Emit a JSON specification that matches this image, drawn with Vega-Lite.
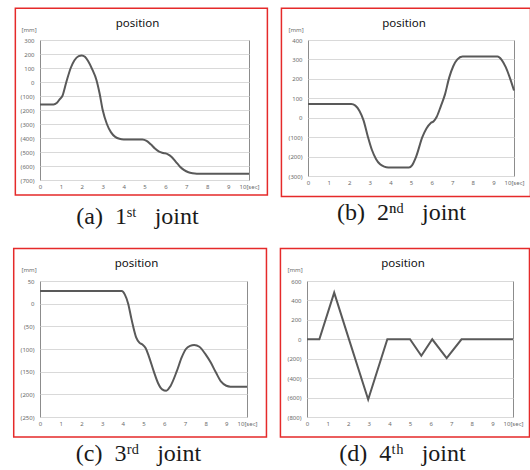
{
  "$schema": "https://vega.github.io/schema/vega-lite/v6.json",
  "padding": {"left": 12, "top": 6, "right": 0, "bottom": 0},
  "background": "white",
  "datasets": {
    "a": [
      {"t": 0, "pos": -160}, {"t": 0.65, "pos": -160}, {"t": 0.8, "pos": -150}, {"t": 0.95, "pos": -122},
      {"t": 1.07, "pos": -100}, {"t": 1.26, "pos": 0}, {"t": 1.47, "pos": 100}, {"t": 1.65, "pos": 155},
      {"t": 1.85, "pos": 185}, {"t": 2.0, "pos": 190}, {"t": 2.15, "pos": 180}, {"t": 2.3, "pos": 150},
      {"t": 2.5, "pos": 90}, {"t": 2.7, "pos": 15}, {"t": 2.85, "pos": -80}, {"t": 3.0, "pos": -200},
      {"t": 3.2, "pos": -300}, {"t": 3.4, "pos": -360}, {"t": 3.6, "pos": -392}, {"t": 3.8, "pos": -406},
      {"t": 4.0, "pos": -410}, {"t": 4.9, "pos": -410}, {"t": 5.1, "pos": -420}, {"t": 5.3, "pos": -445},
      {"t": 5.5, "pos": -475}, {"t": 5.7, "pos": -497}, {"t": 5.9, "pos": -507}, {"t": 6.1, "pos": -515},
      {"t": 6.3, "pos": -535}, {"t": 6.5, "pos": -570}, {"t": 6.7, "pos": -605}, {"t": 6.9, "pos": -630},
      {"t": 7.1, "pos": -645}, {"t": 7.3, "pos": -652}, {"t": 7.5, "pos": -655}, {"t": 10, "pos": -655}
    ],
    "b": [
      {"t": 0, "pos": 70}, {"t": 2.1, "pos": 70}, {"t": 2.3, "pos": 62}, {"t": 2.5, "pos": 35},
      {"t": 2.7, "pos": -15}, {"t": 2.9, "pos": -95}, {"t": 3.1, "pos": -165}, {"t": 3.3, "pos": -212},
      {"t": 3.5, "pos": -240}, {"t": 3.7, "pos": -252}, {"t": 3.9, "pos": -256}, {"t": 4.9, "pos": -256},
      {"t": 5.05, "pos": -245}, {"t": 5.25, "pos": -200}, {"t": 5.55, "pos": -100}, {"t": 5.75, "pos": -55},
      {"t": 5.95, "pos": -28}, {"t": 6.1, "pos": -18}, {"t": 6.25, "pos": 5}, {"t": 6.45, "pos": 60},
      {"t": 6.65, "pos": 120}, {"t": 6.85, "pos": 205}, {"t": 7.05, "pos": 265}, {"t": 7.25, "pos": 300},
      {"t": 7.5, "pos": 315}, {"t": 9.2, "pos": 315}, {"t": 9.4, "pos": 298}, {"t": 9.6, "pos": 260},
      {"t": 9.8, "pos": 205}, {"t": 10, "pos": 140}
    ],
    "c": [
      {"t": 0, "pos": 28}, {"t": 3.95, "pos": 28}, {"t": 4.1, "pos": 20}, {"t": 4.26, "pos": 0},
      {"t": 4.4, "pos": -30}, {"t": 4.5, "pos": -50}, {"t": 4.65, "pos": -75}, {"t": 4.8, "pos": -86},
      {"t": 4.95, "pos": -90}, {"t": 5.1, "pos": -98}, {"t": 5.25, "pos": -115}, {"t": 5.5, "pos": -150},
      {"t": 5.7, "pos": -175}, {"t": 5.9, "pos": -189}, {"t": 6.1, "pos": -192}, {"t": 6.3, "pos": -182},
      {"t": 6.6, "pos": -150}, {"t": 6.85, "pos": -118}, {"t": 7.05, "pos": -100}, {"t": 7.25, "pos": -93},
      {"t": 7.45, "pos": -91}, {"t": 7.7, "pos": -95}, {"t": 8.0, "pos": -112}, {"t": 8.25, "pos": -130},
      {"t": 8.5, "pos": -152}, {"t": 8.75, "pos": -172}, {"t": 9.0, "pos": -181}, {"t": 9.2, "pos": -183},
      {"t": 10, "pos": -183}
    ],
    "d": [
      {"t": 0, "pos": 0}, {"t": 0.6, "pos": 0}, {"t": 1.32, "pos": 480}, {"t": 2.0, "pos": 25},
      {"t": 2.97, "pos": -620}, {"t": 3.9, "pos": 0}, {"t": 5.0, "pos": 0}, {"t": 5.55, "pos": -170},
      {"t": 6.08, "pos": 0}, {"t": 6.78, "pos": -195}, {"t": 7.5, "pos": 0}, {"t": 10, "pos": 0}
    ]
  },
  "config": {
    "view": {"stroke": "#8c8c8c", "strokeWidth": 1},
    "axis": {
      "labelFont": "Noto Sans", "labelFontSize": 6, "labelColor": "#6b6b6b",
      "ticks": false, "tickSize": 0, "domain": false
    },
    "axisX": {
      "grid": false, "labelPadding": 3,
      "titleFont": "Liberation Serif", "titleFontSize": 24, "titleFontWeight": "normal",
      "titleColor": "#1a1a1a", "titlePadding": 15
    },
    "axisY": {
      "grid": true, "gridColor": "#d9d9d9", "gridWidth": 1, "labelPadding": 6,
      "titleFont": "Noto Sans", "titleFontSize": 6, "titleFontWeight": "normal", "titleColor": "#6b6b6b",
      "titleAngle": 0, "titleAlign": "left", "titleBaseline": "middle"
    },
    "title": {"font": "Noto Sans", "fontSize": 11.5, "fontWeight": "normal", "color": "#111111", "dx": -7, "offset": -22}
  },
  "vconcat": [
    {
      "hconcat": [
        {
          "width": 209, "height": 140,
          "title": "position",
          "layer": [
            {
              "data": {"name": "a"},
              "mark": {"type": "line", "interpolate": "monotone", "color": "#595959", "strokeWidth": 2},
              "encoding": {
                "x": {"field": "t", "type": "quantitative", "scale": {"domain": [0, 10], "nice": false, "zero": false},
                      "axis": {"title": "(a)\u00a0\u00a01ˢᵗ\u00a0\u00a0\u00a0joint", "titleX": 97, "values": [0, 1, 2, 3, 4, 5, 6, 7, 8, 9, 10], "tickCount": 30, "format": "d", "labelExpr": "datum.value == 10 ? '10[sec]' : datum.label", "labelOverlap": false, "labelFlush": false, "labelBound": false}},
                "y": {"field": "pos", "type": "quantitative", "scale": {"domain": [-700, 300], "nice": false, "zero": false},
                      "axis": {"title": "[mm]", "titleX": -19, "titleY": -11, "values": [-700, -600, -500, -400, -300, -200, -100, 0, 100, 200, 300], "tickCount": 30, "labelOverlap": false, "labelFlush": false, "labelBound": false,
                               "labelExpr": "datum.value < 0 ? '(' + format(-datum.value, 'd') + ')' : format(datum.value, 'd') + '\u00a0'"}}
              }
            },
            {
              "data": {"values": [{}]},
              "mark": {"type": "rect", "fill": null, "stroke": "#e52a2a", "strokeWidth": 1.5, "clip": false},
              "encoding": {
                "x": {"datum": -1.18, "type": "quantitative"}, "x2": {"datum": 10.88},
                "y": {"datum": 527, "type": "quantitative"}, "y2": {"datum": -807}
              }
            }
          ]
        },
        {
          "width": 206, "height": 136,
          "title": "position",
          "layer": [
            {
              "data": {"name": "b"},
              "mark": {"type": "line", "interpolate": "monotone", "color": "#595959", "strokeWidth": 2},
              "encoding": {
                "x": {"field": "t", "type": "quantitative", "scale": {"domain": [0, 10], "nice": false, "zero": false},
                      "axis": {"title": "(b)\u00a0\u00a02ⁿᵈ\u00a0\u00a0\u00a0joint", "titleX": 93, "values": [0, 1, 2, 3, 4, 5, 6, 7, 8, 9, 10], "tickCount": 30, "format": "d", "labelExpr": "datum.value == 10 ? '10[sec]' : datum.label", "labelOverlap": false, "labelFlush": false, "labelBound": false}},
                "y": {"field": "pos", "type": "quantitative", "scale": {"domain": [-300, 400], "nice": false, "zero": false},
                      "axis": {"title": "[mm]", "titleX": -20, "titleY": -11, "values": [-300, -200, -100, 0, 100, 200, 300, 400], "tickCount": 30, "labelOverlap": false, "labelFlush": false, "labelBound": false,
                               "labelExpr": "datum.value < 0 ? '(' + format(-datum.value, 'd') + ')' : format(datum.value, 'd') + '\u00a0'"}}
              }
            },
            {
              "data": {"values": [{}]},
              "mark": {"type": "rect", "fill": null, "stroke": "#e52a2a", "strokeWidth": 1.5, "clip": false},
              "encoding": {
                "x": {"datum": -1.29, "type": "quantitative"}, "x2": {"datum": 10.8},
                "y": {"datum": 564, "type": "quantitative"}, "y2": {"datum": -405}
              }
            }
          ]
        }
      ],
      "spacing": 11
    },
    {
      "hconcat": [
        {
          "width": 207, "height": 136,
          "title": "position",
          "layer": [
            {
              "data": {"name": "c"},
              "mark": {"type": "line", "interpolate": "monotone", "color": "#595959", "strokeWidth": 2},
              "encoding": {
                "x": {"field": "t", "type": "quantitative", "scale": {"domain": [0, 10], "nice": false, "zero": false},
                      "axis": {"title": "(c)\u00a0\u00a03ʳᵈ\u00a0\u00a0\u00a0joint", "titleX": 98, "values": [0, 1, 2, 3, 4, 5, 6, 7, 8, 9, 10], "tickCount": 30, "format": "d", "labelExpr": "datum.value == 10 ? '10[sec]' : datum.label", "labelOverlap": false, "labelFlush": false, "labelBound": false}},
                "y": {"field": "pos", "type": "quantitative", "scale": {"domain": [-250, 50], "nice": false, "zero": false},
                      "axis": {"title": "[mm]", "titleX": -19, "titleY": -12, "values": [-250, -200, -150, -100, -50, 0, 50], "tickCount": 30, "labelOverlap": false, "labelFlush": false, "labelBound": false,
                               "labelExpr": "datum.value < 0 ? '(' + format(-datum.value, 'd') + ')' : format(datum.value, 'd') + '\u00a0'"}}
              }
            },
            {
              "data": {"values": [{}]},
              "mark": {"type": "rect", "fill": null, "stroke": "#e52a2a", "strokeWidth": 1.5, "clip": false},
              "encoding": {
                "x": {"datum": -1.27, "type": "quantitative"}, "x2": {"datum": 10.94},
                "y": {"datum": 121.7, "type": "quantitative"}, "y2": {"datum": -294}
              }
            }
          ]
        },
        {
          "width": 206, "height": 136,
          "title": "position",
          "layer": [
            {
              "data": {"name": "d"},
              "mark": {"type": "line", "interpolate": "linear", "color": "#595959", "strokeWidth": 2},
              "encoding": {
                "x": {"field": "t", "type": "quantitative", "scale": {"domain": [0, 10], "nice": false, "zero": false},
                      "axis": {"title": "(d)\u00a0\u00a04ᵗʰ\u00a0\u00a0\u00a0joint", "titleX": 95, "values": [0, 1, 2, 3, 4, 5, 6, 7, 8, 9, 10], "tickCount": 30, "format": "d", "labelExpr": "datum.value == 10 ? '10[sec]' : datum.label", "labelOverlap": false, "labelFlush": false, "labelBound": false}},
                "y": {"field": "pos", "type": "quantitative", "scale": {"domain": [-800, 600], "nice": false, "zero": false},
                      "axis": {"title": "[mm]", "titleX": -20, "titleY": -12, "values": [-800, -600, -400, -200, 0, 200, 400, 600], "tickCount": 30, "labelOverlap": false, "labelFlush": false, "labelBound": false,
                               "labelExpr": "datum.value < 0 ? '(' + format(-datum.value, 'd') + ')' : format(datum.value, 'd') + '\u00a0'"}}
              }
            },
            {
              "data": {"values": [{}]},
              "mark": {"type": "rect", "fill": null, "stroke": "#e52a2a", "strokeWidth": 1.5, "clip": false},
              "encoding": {
                "x": {"datum": -1.29, "type": "quantitative"}, "x2": {"datum": 10.8},
                "y": {"datum": 934.6, "type": "quantitative"}, "y2": {"datum": -1006}
              }
            }
          ]
        }
      ],
      "spacing": 11
    }
  ],
  "spacing": 18
}
